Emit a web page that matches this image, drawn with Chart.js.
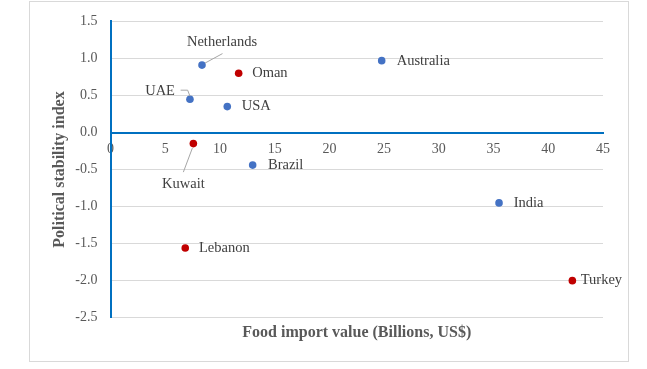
<!DOCTYPE html>
<html>
<head>
<meta charset="utf-8">
<script src="https://cdn.jsdelivr.net/npm/chart.js@4/dist/chart.umd.min.js"></script>
<style>
  html, body { margin: 0; padding: 0; background: #ffffff; }
  #wrap { position: relative; width: 647px; height: 369px; }
</style>
</head>
<body>
<div id="wrap"><canvas id="c" width="647" height="369"></canvas></div>
<script>
// ---- Data ----
const blueCountries = ['Netherlands', 'UAE', 'USA', 'Brazil', 'Australia', 'India'];
const blueImport    = [8.36, 7.26, 10.67, 12.99, 24.78, 35.5];
const blueStability = [0.91, 0.45, 0.35, -0.44, 0.97, -0.95];

const redCountries  = ['Oman', 'Kuwait', 'Lebanon', 'Turkey'];
const redImport     = [11.71, 7.57, 6.83, 42.2];
const redStability  = [0.80, -0.15, -1.56, -2.00];

const xTickValues = [0, 5, 10, 15, 20, 25, 30, 35, 40, 45];
const yTickValues = [-2.5, -2.0, -1.5, -1.0, -0.5, 0.0, 0.5, 1.0, 1.5];

const xTitle = 'Food import value (Billions, US$)';
const yTitle = 'Political stability index';

// ---- Styles ----
const SERIF = "'Liberation Serif', 'Times New Roman', serif";
const BLUE_PT = '#4472C4';
const RED_PT = '#C00000';
const AXIS_BLUE = '#0070C0';
const GRID = '#D9D9D9';
const TICK_TXT = '#595959';
const LABEL_TXT = '#404040';
const LEADER = '#A6A6A6';

// label placement (style): offsets in px from point, alignment, optional leader line
const labelStyle = {
  'Netherlands': { dx: 20, dy: -23, align: 'center', leader: [[3, -2], [20.5, -11.5]] },
  'Oman':        { dx: 13.5, dy: 0, align: 'left' },
  'UAE':         { dx: -15, dy: -8.4, align: 'right', leader: [[-9.3, -9], [-2.3, -9], [0, -3]] },
  'USA':         { dx: 14.4, dy: 0, align: 'left' },
  'Kuwait':      { dx: -10, dy: 40.6, align: 'center', leader: [[-1, 4.5], [-10, 28.5]] },
  'Brazil':      { dx: 15.3, dy: 0, align: 'left' },
  'Australia':   { dx: 15, dy: 1, align: 'left' },
  'India':       { dx: 14.7, dy: 0, align: 'left' },
  'Turkey':      { dx: 8.4, dy: 0, align: 'left' },
  'Lebanon':     { dx: 13.7, dy: 0, align: 'left' }
};

function toPoints(xs, ys) { return xs.map((x, i) => ({ x: x, y: ys[i] })); }

const frameAndLabels = {
  id: 'frameAndLabels',
  beforeDraw(chart) {
    const ctx = chart.ctx;
    ctx.save();
    ctx.fillStyle = '#ffffff';
    ctx.fillRect(0, 0, chart.width, chart.height);
    ctx.strokeStyle = GRID;
    ctx.lineWidth = 1;
    ctx.strokeRect(29.5, 1.5, 599, 360);
    ctx.restore();
  },
  afterDatasetsDraw(chart) {
    const ctx = chart.ctx;
    ctx.save();
    ctx.font = '14.5px ' + SERIF;
    ctx.textBaseline = 'middle';
    chart.data.datasets.forEach((ds, di) => {
      const meta = chart.getDatasetMeta(di);
      meta.data.forEach((el, i) => {
        const name = ds.names[i];
        const st = labelStyle[name];
        if (!st) return;
        const px = el.x, py = el.y;
        if (st.leader) {
          ctx.beginPath();
          ctx.strokeStyle = LEADER;
          ctx.lineWidth = 1;
          st.leader.forEach((p, k) => {
            if (k === 0) ctx.moveTo(px + p[0], py + p[1]);
            else ctx.lineTo(px + p[0], py + p[1]);
          });
          ctx.stroke();
        }
        ctx.fillStyle = LABEL_TXT;
        ctx.textAlign = st.align;
        ctx.fillText(name, px + st.dx, py + st.dy);
      });
    });
    ctx.restore();
  }
};

new Chart(document.getElementById('c'), {
  type: 'scatter',
  data: {
    datasets: [
      {
        label: 'Blue',
        names: blueCountries,
        data: toPoints(blueImport, blueStability),
        backgroundColor: BLUE_PT,
        borderColor: BLUE_PT,
        borderWidth: 0,
        pointRadius: 3.8,
        xAxisID: 'x',
        yAxisID: 'y'
      },
      {
        label: 'Red',
        names: redCountries,
        data: toPoints(redImport, redStability),
        backgroundColor: RED_PT,
        borderColor: RED_PT,
        borderWidth: 0,
        pointRadius: 3.8,
        xAxisID: 'x',
        yAxisID: 'y'
      }
    ]
  },
  options: {
    responsive: false,
    animation: false,
    events: [],
    layout: { padding: { left: 0, top: 19.3, right: 44, bottom: 0 } },
    plugins: {
      legend: { display: false },
      tooltip: { enabled: false }
    },
    scales: {
      x: {
        type: 'linear',
        position: { y: 0 },
        min: 0,
        max: 45,
        afterBuildTicks(scale) { scale.ticks = xTickValues.map(v => ({ value: v })); },
        ticks: {
          padding: 8,
          color: TICK_TXT,
          font: { family: SERIF, size: 14 },
          maxRotation: 0,
          autoSkip: false,
          callback: v => String(v)
        },
        grid: { display: false, drawTicks: false },
        border: { display: true, color: AXIS_BLUE, width: 2 }
      },
      x2: {
        type: 'linear',
        axis: 'x',
        position: 'bottom',
        display: true,
        min: 0,
        max: 45,
        ticks: { display: false },
        grid: { display: false, drawTicks: false },
        border: { display: false },
        title: {
          display: true,
          text: xTitle,
          color: TICK_TXT,
          font: { family: SERIF, size: 16, weight: 'bold' },
          padding: { top: 0, bottom: 27 }
        },
        afterFit(scale) { scale.height = 51.3; }
      },
      y: {
        type: 'linear',
        position: 'left',
        min: -2.5,
        max: 1.5,
        afterBuildTicks(scale) { scale.ticks = yTickValues.map(v => ({ value: v })); },
        ticks: {
          padding: 13,
          color: TICK_TXT,
          font: { family: SERIF, size: 14 },
          autoSkip: false,
          callback: v => Number(v).toFixed(1)
        },
        grid: {
          drawTicks: false,
          color: ctx => (ctx.tick && Math.abs(ctx.tick.value) < 1e-9) ? 'rgba(0,0,0,0)' : GRID,
          lineWidth: 1
        },
        border: { display: true, color: AXIS_BLUE, width: 2 },
        title: {
          display: true,
          text: yTitle,
          color: TICK_TXT,
          font: { family: SERIF, size: 16, weight: 'bold' },
          padding: { top: 50.4, bottom: 0 }
        },
        afterFit(scale) { scale.width = 110.5; }
      }
    }
  },
  plugins: [frameAndLabels]
});
</script>
</body>
</html>
